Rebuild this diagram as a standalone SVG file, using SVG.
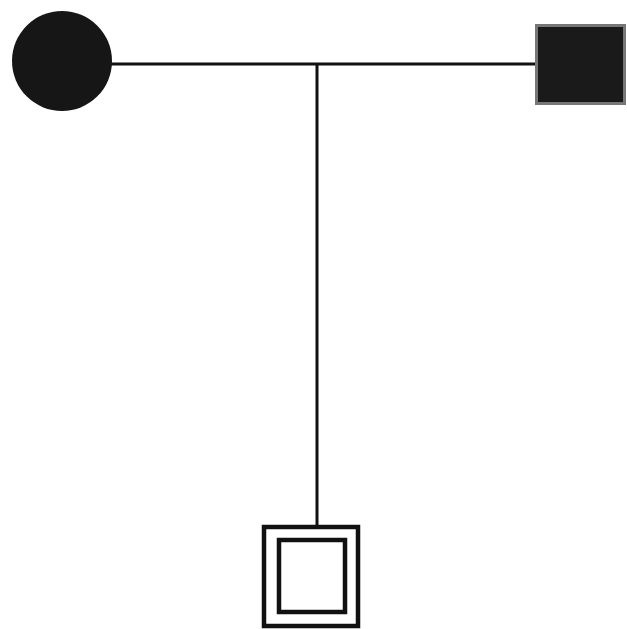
<svg xmlns="http://www.w3.org/2000/svg" width="627" height="629" viewBox="0 0 627 629">
<style>
.line{stroke:#111;stroke-width:3;fill:none}
.box{fill:none;stroke:#111;stroke-width:4.5}
</style>
<rect width="627" height="629" fill="#fff"/>
<g id="connectors">
<line class="line" x1="110" y1="64" x2="537" y2="64"/>
<line class="line" x1="317" y1="64" x2="317" y2="526"/>
</g>
<g id="mother">
<circle cx="62" cy="61" r="50" fill="#161616"/>
</g>
<g id="father">
<rect x="536.5" y="25.5" width="88" height="78" fill="#1a1a1a" stroke="#777" stroke-width="3"/>
</g>
<g id="proband">
<rect class="box" x="264" y="527" width="94" height="99"/>
<rect class="box" x="279" y="540" width="66" height="72"/>
</g>
</svg>
